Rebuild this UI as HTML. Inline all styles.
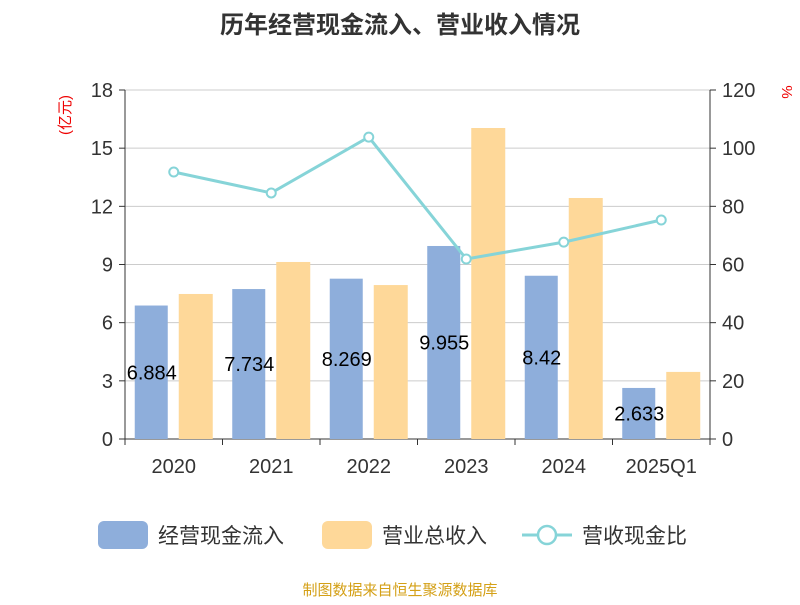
<!DOCTYPE html>
<html><head><meta charset="utf-8"><style>
body{margin:0;background:#fff;}
svg text{font-family:"Liberation Sans","Noto Sans CJK SC",sans-serif;}
</style></head><body>
<svg id="chart" width="800" height="600" xmlns="http://www.w3.org/2000/svg">
<text x="400" y="33" text-anchor="middle" font-size="24" font-weight="bold" fill="#333">历年经营现金流入、营业收入情况</text>
<text transform="translate(70,115) rotate(-90)" text-anchor="middle" font-size="15" fill="#e00">(亿元)</text>
<text transform="translate(782,92) rotate(90)" text-anchor="middle" font-size="15" fill="#e00">%</text>
<g id="grid"></g><g id="bars"></g><g id="line"></g><g id="axes"></g>
<g>
<rect x="98" y="521" width="50" height="28" rx="6" fill="#8eaedb"/>
<text x="158" y="543" font-size="21" fill="#333">经营现金流入</text>
<rect x="322" y="521" width="50" height="28" rx="6" fill="#fed899"/>
<text x="382" y="543" font-size="21" fill="#333">营业总收入</text>
<line x1="522" y1="535" x2="572" y2="535" stroke="#86d4d8" stroke-width="3"/>
<circle cx="547" cy="535" r="9" fill="#fff" stroke="#86d4d8" stroke-width="2.5"/>
<text x="582" y="543" font-size="21" fill="#333">营收现金比</text>
</g>
<text x="400" y="595" text-anchor="middle" font-size="15" fill="#d4a017">制图数据来自恒生聚源数据库</text>
</svg>
<script>
const categories=["2020","2021","2022","2023","2024","2025Q1"];
const cashInflow=[6.884,7.734,8.269,9.955,8.42,2.633];
const revenue=[7.48,9.13,7.94,16.04,12.43,3.46];
const ratio=[91.8,84.6,103.8,61.9,67.7,75.3];
const leftTicks=[0,3,6,9,12,15,18];
const rightTicks=[0,20,40,60,80,100,120];
const NS="http://www.w3.org/2000/svg";
const x0=125,x1=710,yTop=90,yBot=439;
const bw=(x1-x0)/categories.length;
const yL=v=>yBot-v/18*(yBot-yTop);
const yR=v=>yBot-v/120*(yBot-yTop);
const xc=i=>x0+bw*(i+0.5);
function mk(tag,attrs,parent,text){const e=document.createElementNS(NS,tag);for(const k in attrs)e.setAttribute(k,attrs[k]);if(text!==undefined)e.textContent=text;document.getElementById(parent).appendChild(e);return e;}
leftTicks.forEach((t,i)=>{
 const g=mk("line",{x1:x0,x2:x1,y1:yL(t),y2:yL(t),stroke:t===0?"#333":"#ccc","stroke-width":1},"grid");
 
 
 const a=mk("text",{x:x0-12,y:yL(t)+7,"text-anchor":"end","font-size":20,fill:"#333"},"axes",t);
 
 
 mk("line",{x1:x0-6,x2:x0,y1:yL(t),y2:yL(t),stroke:"#333"},"axes");
});
rightTicks.forEach(t=>{
 const a=mk("text",{x:x1+12,y:yR(t)+7,"font-size":20,fill:"#333"},"axes",t);
 
 
 mk("line",{x1:x1,x2:x1+6,y1:yR(t),y2:yR(t),stroke:"#333"},"axes");
});
mk("line",{x1:x0,x2:x0,y1:yTop,y2:yBot,stroke:"#333"},"axes");
mk("line",{x1:x1,x2:x1,y1:yTop,y2:yBot,stroke:"#333"},"axes");
categories.forEach((c,i)=>{
 mk("line",{x1:x0+bw*i,x2:x0+bw*i,y1:yBot,y2:yBot+6,stroke:"#333"},"axes");
 const a=mk("text",{x:xc(i),y:yBot+34,"text-anchor":"middle","font-size":20,fill:"#333"},"axes",c);
 
 
 const b=mk("rect",{x:xc(i)-39,y:yL(cashInflow[i]),width:33,height:yBot-yL(cashInflow[i]),fill:"#8eaedb"},"bars");
 
 
 const r=mk("rect",{x:xc(i)+5,y:yL(revenue[i]),width:34,height:yBot-yL(revenue[i]),fill:"#fed899"},"bars");
 
 
});
mk("line",{x1:x1,x2:x1,y1:yBot,y2:yBot+6,stroke:"#333"},"axes");
let d="";ratio.forEach((v,i)=>{d+=(i?"L":"M")+xc(i)+","+yR(v);});
const p=mk("path",{d:d,fill:"none",stroke:"#86d4d8","stroke-width":3},"line");


ratio.forEach((v,i)=>{
 const c=mk("circle",{cx:xc(i),cy:yR(v),r:4.5,fill:"#fff",stroke:"#86d4d8","stroke-width":2},"line");
 
 
});
cashInflow.forEach((v,i)=>{
 const t=mk("text",{x:xc(i)-22,y:(yL(v)+yBot)/2+7,"text-anchor":"middle","font-size":20,fill:"#000"},"line",v);
 
 
});
</script>
</body></html>
